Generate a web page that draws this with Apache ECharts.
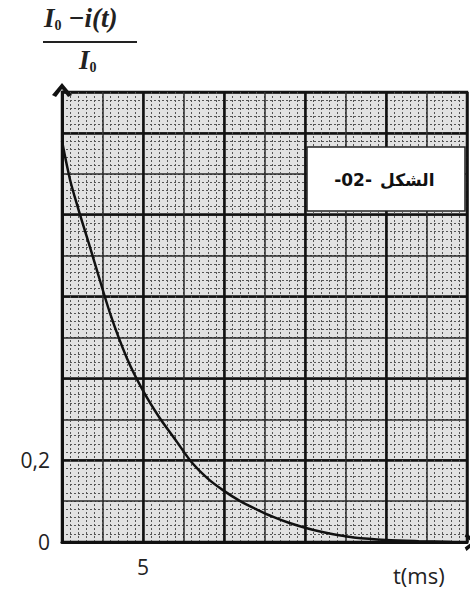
<!DOCTYPE html>
<html>
<head>
<meta charset="utf-8">
<script src="https://cdn.jsdelivr.net/npm/echarts@6/dist/echarts.min.js"></script>
<style>html,body{margin:0;padding:0;background:#fff}#c{width:470px;height:598px}</style>
</head>
<body>
<div id="c"></div>
<script>
// time (ms)
const times = [0, 0.5, 1, 1.5, 2, 3, 4, 5, 6, 7, 8, 9, 10, 11, 12, 13, 14, 15, 16, 17, 18, 20, 22, 24];
// (I0 - i(t)) / I0
const ratio = [0.98, 0.885, 0.815, 0.75, 0.685, 0.555, 0.45, 0.37, 0.305, 0.25, 0.195, 0.155, 0.125, 0.1, 0.08, 0.062, 0.047, 0.035, 0.025, 0.017, 0.011, 0.005, 0.002, 0.0];
// tick labels shown
const xTickLabels = {5: '5'};
const yTickLabels = {0: '0', 0.2: '0,2'};
const xName = 't(ms)';
const figWord = 'الشكل';
const figNum = '-02-';

const chart = echarts.init(document.getElementById('c'), null, {renderer: 'svg'});
const X_MIN = 0, X_MAX = 25, Y_MIN = 0, Y_MAX = 1.1;
function near(map, v) {
  for (const k in map) if (Math.abs(v - Number(k)) < 1e-6) return map[k];
  return '';
}
const arrowPath = 'path://M0,12 L10,0 L20,12 L16,14 L10,6 L4,14 Z';
function xAx(interval, ls, main) {
  return {
    type: 'value', min: X_MIN, max: X_MAX, interval: interval, gridIndex: 0, position: 'bottom', offset: 0,
    axisLine: main ? {show: true, onZero: false, symbol: ['none', arrowPath], symbolSize: [18, 14], symbolOffset: [0, 4], lineStyle: {color: '#111', width: 3}} : {show: false, onZero: false},
    axisTick: {show: false},
    axisLabel: main ? {show: true, formatter: v => near(xTickLabels, v), color: '#222', fontSize: 21, fontFamily: 'Open Sans', margin: 14} : {show: false},
    splitLine: {show: true, lineStyle: ls}
  };
}
function yAx(interval, ls, main) {
  return {
    type: 'value', min: Y_MIN, max: Y_MAX, interval: interval, gridIndex: 0, position: 'left', offset: 0,
    axisLine: main ? {show: true, onZero: false, symbol: ['none', arrowPath], symbolSize: [20, 16], symbolOffset: [0, 2], lineStyle: {color: '#111', width: 3}} : {show: false, onZero: false},
    axisTick: {show: false},
    axisLabel: main ? {show: true, formatter: v => near(yTickLabels, v), color: '#222', fontSize: 21, fontFamily: 'Open Sans', margin: 12, padding: [6, 0, 0, 0]} : {show: false},
    splitLine: {show: true, lineStyle: ls}
  };
}
const fine = {color: '#555', width: 1, type: [2, 2]};
const mid = {color: '#2a2a2a', width: 1.5};
const major = {color: '#111', width: 2.5};

const rich = {
  i: {fontFamily: 'Liberation Serif', fontStyle: 'italic', fontWeight: 'bold', fontSize: 27, fill: '#222'},
  s: {fontFamily: 'Liberation Serif', fontWeight: 'bold', fontSize: 14, fill: '#222', padding: [14, 0, 0, 0]}
};

chart.setOption({
  animation: false,
  backgroundColor: '#fff',
  grid: {left: 62, right: 3, top: 92, bottom: 56, show: true, backgroundColor: '#e2e2e2', borderColor: '#111', borderWidth: 2.5, containLabel: false},
  xAxis: [xAx(0.5, fine, false), xAx(2.5, mid, false), xAx(5, major, true)],
  yAxis: [yAx(0.02, fine, false), yAx(0.1, mid, false), yAx(0.2, major, true)],
  series: [{
    type: 'line', xAxisIndex: 2, yAxisIndex: 2, smooth: 0.3, symbol: 'none',
    data: times.map((t, i) => [t, ratio[i]]),
    lineStyle: {color: '#111', width: 2.5}, z: 5
  }],
  graphic: [
    {type: 'rect', shape: {x: 307, y: 147, width: 158, height: 64}, style: {fill: '#fff', stroke: '#222', lineWidth: 1.5}, z: 10},
    {type: 'text', x: 372, y: 180, style: {text: figNum, fill: '#111', font: 'bold 17px "DejaVu Sans"', textAlign: 'right', textVerticalAlign: 'middle'}, z: 11},
    {type: 'text', x: 380, y: 180, style: {text: figWord, fill: '#111', font: 'bold 17px "DejaVu Sans"', textAlign: 'left', textVerticalAlign: 'middle'}, z: 11},
    {type: 'text', x: 44, y: 4, style: {rich: rich, text: '{i|I}{s|0}{i| −i(t)}'}, z: 11},
    {type: 'line', shape: {x1: 43, y1: 42, x2: 137, y2: 42}, style: {stroke: '#222', lineWidth: 2}, z: 11},
    {type: 'text', x: 79, y: 46, style: {rich: rich, text: '{i|I}{s|0}'}, z: 11},
    {type: 'text', x: 393, y: 564, style: {text: xName, fill: '#222', font: '22px "Open Sans"'}, z: 11}
  ]
});
</script>
</body>
</html>
